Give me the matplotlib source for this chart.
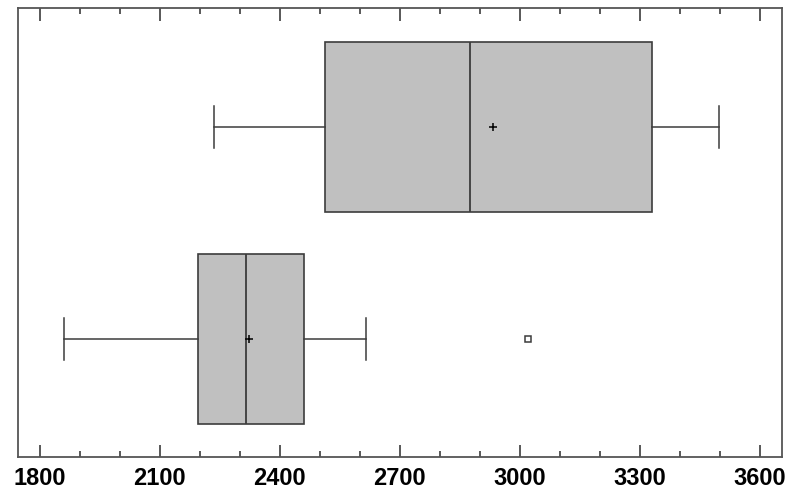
import matplotlib.pyplot as plt
from matplotlib.ticker import MultipleLocator

# Box summary values (bottom group first, then top)
labels = ["A", "B"]
whislo = [1861, 2236]
q1 = [2195, 2514]
med = [2315, 2876]
q3 = [2462, 3331]
whishi = [2615, 3499]
means = [2324, 2934]
outliers = [[3022], []]

# Build the stats list that bxp expects
stats = []
for i in range(len(labels)):
    stats.append({
        "label": labels[i],
        "whislo": whislo[i],
        "q1": q1[i],
        "med": med[i],
        "q3": q3[i],
        "whishi": whishi[i],
        "mean": means[i],
        "fliers": outliers[i],
    })

plt.rcParams["font.family"] = ["Liberation Sans", "DejaVu Sans"]

fig = plt.figure(figsize=(7.9, 4.92), dpi=100)
ax = fig.add_axes([0.0222, 0.0711, 0.9677, 0.9126])

edge = "#3c3c3c"
ax.bxp(
    stats,
    positions=[1, 2],
    widths=0.8,
    vert=False,
    patch_artist=True,
    showmeans=True,
    boxprops=dict(facecolor="#c0c0c0", edgecolor=edge, linewidth=1.2),
    medianprops=dict(color=edge, linewidth=1.3),
    whiskerprops=dict(color=edge, linewidth=1.1),
    capprops=dict(color=edge, linewidth=1.1),
    capwidths=0.2,
    meanprops=dict(marker="+", markeredgecolor="black", markersize=6,
                   markeredgewidth=1.1),
    flierprops=dict(marker="s", markerfacecolor="white",
                    markeredgecolor=edge, markersize=4.5,
                    markeredgewidth=1.1),
)

ax.set_xlim(1745, 3656)
ax.set_ylim(0.443, 2.561)

# Major ticks every 300, minor every 100, inward on top and bottom
ax.xaxis.set_major_locator(MultipleLocator(300))
ax.xaxis.set_minor_locator(MultipleLocator(100))
ax.tick_params(axis="x", which="both", direction="in", top=True,
               bottom=True, color=edge, width=1.2)
ax.tick_params(axis="x", which="major", length=9, labelsize=17, pad=7)
ax.tick_params(axis="x", which="minor", length=4)
ax.set_yticks([])
for lbl in ax.get_xticklabels():
    lbl.set_fontweight("bold")

for spine in ax.spines.values():
    spine.set_color("#555555")
    spine.set_linewidth(1.3)

fig.savefig("out.png", dpi=100)
